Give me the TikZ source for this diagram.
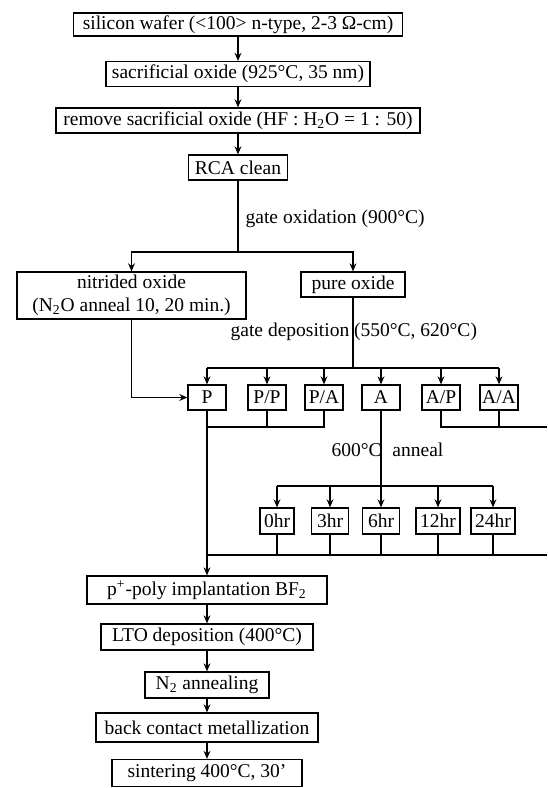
\documentclass[tikz,border=0pt]{standalone}
\usepackage{fontspec}
\setmainfont{Liberation Serif}
\usepackage{tikz}
\usetikzlibrary{arrows.meta,calc}
\tikzset{
  stepbox/.style={draw,inner xsep=3pt,inner ysep=0pt,minimum height=12.5pt},
  splitbox/.style={stepbox,minimum width=19pt,inner xsep=1pt},
  hrbox/.style={stepbox,minimum height=13pt,inner xsep=2pt},
  lbl/.style={anchor=west,inner sep=0pt},
}

\begin{document}
\begin{tikzpicture}[x=0.5pt,y=-0.5pt,line width=.65pt,
  >={Stealth[length=4pt,width=3.4pt,inset=1.3pt]},
  every node/.append style={font=\fontsize{9.75pt}{11.5pt}\selectfont}]
\useasboundingbox (0,0) rectangle (547,788);

% wafer preparation
\node[stepbox,minimum width=164.5pt,minimum height=11.5pt] (wafer) at (238,24.5)
  {silicon wafer (<100> n-type, 2-3 Ω-cm)};
\node[stepbox,minimum width=131.5pt] (sacr) at (238,74)
  {sacrificial oxide (925°C, 35 nm)};
\node[stepbox,minimum width=182pt] (hfdip) at (238,120.5)
  {remove sacrificial oxide (HF : H\textsubscript{2}O = 1 : 50)};
\node[stepbox,minimum width=49.5pt] (rca) at (238,167.5) {RCA clean};
\draw[->] (wafer) -- (sacr);
\draw[->] (sacr) -- (hfdip);
\draw[->] (hfdip) -- (rca);

% gate oxide
\node[stepbox,minimum width=114.5pt,minimum height=23.5pt,align=center] (nit) at (131.5,295.5)
  {nitrided oxide\\(N\textsubscript{2}O anneal 10, 20 min.)};
\node[stepbox,minimum width=52pt] (pure) at (353,284.5) {pure oxide};
\coordinate (gox) at (238,252);
\draw (rca) -- (gox);
\draw[->] (gox) -| (nit);
\draw[->] (gox) -| (pure);
\node[lbl] (goxlbl) at (245,219) {gate oxidation (900°C)};

% gate deposition
\node[splitbox] (P)  at (207,397.5) {P};
\node[splitbox] (pp) at (267,397.5) {P/P};
\node[splitbox] (pa) at (324,397.5) {P/A};
\node[splitbox] (A)  at (381,397.5) {A};
\node[splitbox] (ap) at (441,397.5) {A/P};
\node[splitbox] (aa) at (499,397.5) {A/A};
\coordinate (gdep) at (353,368);
\draw (pure) -- (gdep);
\draw (P |- gdep) -- (aa |- gdep);
\foreach \n in {P,pp,pa,A,ap,aa}
  \draw[->] (\n |- gdep) -- (\n);
\draw[->] (nit) |- (P);
\node[lbl] (gdeplbl) at (230,332) {gate deposition (550°C, 620°C)};

% collect
\coordinate (joinA) at (547,427);
\draw (pp) -- (pp |- joinA);
\draw (pa) -- (pa |- joinA) -- (P |- joinA);
\draw (ap) -- (ap |- joinA) -- (joinA);
\draw (aa) -- (aa |- joinA);

% anneal
\node[hrbox,minimum width=17pt]   (h0)  at (277,521) {0hr};
\node[hrbox,minimum width=18.5pt] (h3)  at (330,521) {3hr};
\node[hrbox,minimum width=18.5pt] (h6)  at (381,521) {6hr};
\node[hrbox,minimum width=22pt]   (h12) at (438,521) {12hr};
\node[hrbox,minimum width=22pt]   (h24) at (493,521) {24hr};
\coordinate (ann) at (381,486);
\draw (A) -- (ann);
\draw (h0 |- ann) -- (h24 |- ann);
\foreach \n in {h0,h3,h6,h12,h24}
  \draw[->] (\n |- ann) -- (\n);
\node[lbl] (annlbl) at (331,450) {600°C\hspace{0.55em}anneal};
\coordinate (joinB) at (547,555);
\draw (P |- joinB) -- (joinB);
\foreach \n in {h0,h3,h6,h12,h24}
  \draw (\n) -- (\n |- joinB);

% back end
\node[stepbox,minimum width=120pt,minimum height=14pt] (pimp) at (207,590)
  {p\textsuperscript{+}-poly implantation BF\textsubscript{2}};
\node[stepbox,minimum width=106pt,minimum height=13pt] (lto) at (207,637)
  {LTO deposition (400°C)};
\node[stepbox,minimum width=62pt,minimum height=13pt] (nann) at (207,685)
  {N\textsubscript{2} annealing};
\node[stepbox,minimum width=111pt,minimum height=14.5pt] (metal) at (207,727.5)
  {back contact metallization};
\node[stepbox,minimum width=95pt,minimum height=13.5pt] (sinter) at (207,773)
  {sintering 400°C, 30'};
\draw[->] (P) -- (pimp);
\draw[->] (pimp) -- (lto);
\draw[->] (lto) -- (nann);
\draw[->] (nann) -- (metal);
\draw[->] (metal) -- (sinter);
\end{tikzpicture}
\end{document}
